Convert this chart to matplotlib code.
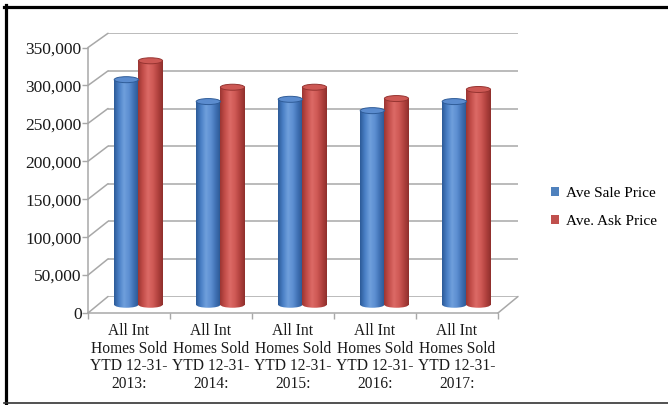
import numpy as np
import matplotlib
matplotlib.use("Agg")
import matplotlib.pyplot as plt
from matplotlib.patches import Ellipse, Patch, ConnectionPatch
from matplotlib.colors import LinearSegmentedColormap
from matplotlib.lines import Line2D

# ---- data -------------------------------------------------------------
categories = [
    "All Int\nHomes Sold\nYTD 12-31-\n2013:",
    "All Int\nHomes Sold\nYTD 12-31-\n2014:",
    "All Int\nHomes Sold\nYTD 12-31-\n2015:",
    "All Int\nHomes Sold\nYTD 12-31-\n2016:",
    "All Int\nHomes Sold\nYTD 12-31-\n2017:",
]
sale_price = [298000, 269000, 272000, 257000, 269000]
ask_price = [323000, 288000, 288000, 273000, 285000]
series_names = ["Ave Sale Price", "Ave. Ask Price"]
y_ticks = [0, 50000, 100000, 150000, 200000, 250000, 300000, 350000]

plt.rcParams["font.family"] = ["Liberation Serif", "DejaVu Serif"]

W, H = 668, 405
fig = plt.figure(figsize=(W / 100, H / 100), dpi=100)
fig.patch.set_facecolor("white")

YMAX = y_ticks[-1]
GRID = "#a8a8a8"


def px_axes(left, bottom, width, height):
    """Axes placed by pixel coordinates (bottom measured from the top edge)."""
    return fig.add_axes([left / W, 1 - bottom / H, width / W, height / H])


def plain(a):
    a.set_xlim(-0.5, len(categories) - 0.5)
    a.patch.set_visible(False)
    for s in a.spines.values():
        s.set_visible(False)
    a.set_xticks([])
    a.set_yticks([])


# back wall, cylinder plane (half depth), front plane
ax_back = px_axes(108, 296.5, 410, 263.2)
plain(ax_back)
ax_back.set_ylim(0, YMAX)

mid_scale = 264.35 / YMAX
pad = 20000
ax_mid = px_axes(98, 304.75 + pad * mid_scale, 410, (YMAX + pad) * mid_scale)
plain(ax_mid)
ax_mid.set_ylim(-pad, YMAX)

ax = px_axes(88, 313, 410, 265.5)
plain(ax)
ax.set_ylim(0, YMAX)
ax_back.set_zorder(0)
ax_mid.set_zorder(1)
ax.set_zorder(2)

# back-wall gridlines and their links to the front value axis
for v in y_ticks:
    ax_back.axhline(v, color=GRID, lw=1.1)
    fig.add_artist(ConnectionPatch((-0.5, v), (-0.5, v), "data", "data",
                                   axesA=ax, axesB=ax_back, color=GRID, lw=1.1))
# floor's right edge
fig.add_artist(ConnectionPatch((len(categories) - 0.5, 0), (len(categories) - 0.5, 0),
                               "data", "data", axesA=ax, axesB=ax_back,
                               color=GRID, lw=1.1))

# front axes: value axis and floor edge
ax.spines["left"].set_visible(True)
ax.spines["bottom"].set_visible(True)
for s in ("left", "bottom"):
    ax.spines[s].set_color(GRID)
    ax.spines[s].set_linewidth(1.1)
ax.set_yticks(y_ticks, labels=[f"{v:,}" for v in y_ticks])
ax.tick_params(axis="y", length=4, width=1, color=GRID, pad=0.5,
               labelsize=12.5, labelcolor="#1a1a1a")
bounds = np.arange(len(categories) + 1) - 0.5
ax.set_xticks(bounds, labels=[""] * len(bounds))
ax.tick_params(axis="x", which="major", length=4, width=1, color=GRID)
ax.set_xticks(np.arange(len(categories)), labels=categories, minor=True)
ax.tick_params(axis="x", which="minor", length=0, pad=7, labelsize=11.2,
               labelcolor="#1a1a1a")
for t in ax.get_xticklabels(minor=True):
    t.set_linespacing(1.15)

# ---- cylinders ----------------------------------------------------------
blue_cmap = LinearSegmentedColormap.from_list(
    "blue_cyl", ["#2c5a97", "#4a80c6", "#6f9fdc", "#5d8fd2", "#3f70b3", "#2a5590"])
red_cmap = LinearSegmentedColormap.from_list(
    "red_cyl", ["#9b3532", "#c44e4a", "#dc6a66", "#d05a56", "#b2423f", "#8e2f2c"])
series = [
    (sale_price, -0.155, blue_cmap, "#5b8ccf", "#2f5c98", "#4f81bd"),
    (ask_price, 0.14, red_cmap, "#cd5854", "#963431", "#c0504d"),
]
bar_w = 0.295
cap_h = 6 / mid_scale  # ellipse height in data units
grad = np.linspace(0, 1, 128).reshape(1, -1)

for values, off, cmap, top_c, rim_c, _ in series:
    for i, v in enumerate(values):
        xc = i + off
        x0 = xc - bar_w / 2
        # rounded base
        base = Ellipse((xc, 0), bar_w, cap_h, facecolor="none", lw=0, zorder=1.9)
        ax_mid.add_patch(base)
        im = ax_mid.imshow(grad, cmap=cmap, extent=[x0, x0 + bar_w, -cap_h, cap_h],
                           aspect="auto", interpolation="bilinear", zorder=1.9)
        im.set_clip_path(base)
        # body
        body = ax_mid.bar(xc, v, bar_w, color="none", lw=0, zorder=2)[0]
        im = ax_mid.imshow(grad, cmap=cmap, extent=[x0, x0 + bar_w, 0, v],
                           aspect="auto", interpolation="bilinear", zorder=2)
        im.set_clip_path(body)
        # top cap
        ax_mid.add_patch(Ellipse((xc, v), bar_w, cap_h, facecolor=top_c,
                                 edgecolor=rim_c, lw=0.7, zorder=3))

ax_mid.set_xlim(-0.5, len(categories) - 0.5)
ax_mid.set_ylim(-pad, YMAX)

# ---- legend -------------------------------------------------------------
handles = [Patch(facecolor=s[5], edgecolor="none") for s in series]
fig.legend(handles, series_names, loc="center left",
           bbox_to_anchor=(551 / W, 1 - 207.5 / H), frameon=False, fontsize=11,
           handlelength=0.55, handleheight=0.55, handletextpad=0.4,
           labelspacing=1.0, borderpad=0, borderaxespad=0)

# ---- outer frame --------------------------------------------------------
fig.add_artist(Line2D([4 / W, 1], [1 - 6.5 / H] * 2, color="black", lw=2.3))
fig.add_artist(Line2D([5.5 / W] * 2, [1 - 5 / H, 1 - 403 / H], color="black", lw=2.3))
fig.add_artist(Line2D([4 / W, 1], [1 - 402.5 / H] * 2, color="#333333", lw=1.2))

fig.savefig("out.png", dpi=100)
